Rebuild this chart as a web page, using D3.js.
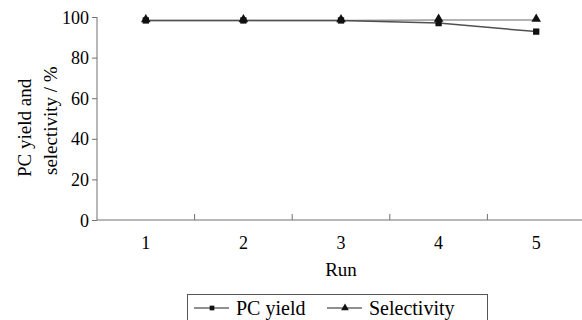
<!DOCTYPE html>
<html>
<head>
<meta charset="utf-8">
<script src="https://cdn.jsdelivr.net/npm/d3@7"></script>
<style>
  body { margin: 0; background: #fff; }
  svg text { font-family: "Liberation Serif", "DejaVu Serif", serif; fill: #000; }
</style>
</head>
<body>
<script>
// data
var runs = ['1', '2', '3', '4', '5'];
var pcYield = [98.3, 98.3, 98.3, 97.0, 92.8];
var selectivity = [98.3, 98.3, 98.3, 98.5, 98.5];
var yTicks = [0, 20, 40, 60, 80, 100];

var serif = '"Liberation Serif", "DejaVu Serif", serif';
var width = 582, height = 320;
var margin = { left: 97, right: -3, top: 17, bottom: 100 };

var svg = d3.select('body').append('svg')
    .attr('width', width)
    .attr('height', height)
    .style('font-family', serif);

var x = d3.scaleBand()
    .domain(runs)
    .range([margin.left, width - margin.right]);

var y = d3.scaleLinear()
    .domain([0, 100])
    .range([height - margin.bottom, margin.top]);

var axisColor = '#707070';

// y axis
var yAxis = svg.append('g')
    .attr('transform', 'translate(' + margin.left + ',0)')
    .call(d3.axisLeft(y).tickValues(yTicks).tickSize(5).tickPadding(3));
yAxis.attr('font-family', null).attr('font-size', null);
yAxis.selectAll('path, line').attr('stroke', axisColor);
yAxis.selectAll('text')
    .style('font-family', serif)
    .style('font-size', '18px')
    .attr('dy', '0.34em');
yAxis.select('.domain').attr('d', 'M0,' + y(100) + 'V' + y(0));

// x axis (ticks between categories, pointing up)
var xAxisY = y(0);
svg.append('line')
    .attr('x1', margin.left).attr('x2', width)
    .attr('y1', xAxisY).attr('y2', xAxisY)
    .attr('stroke', axisColor);
svg.selectAll('.xtick')
    .data(runs.slice(1))
    .enter().append('line')
    .attr('x1', function (d) { return x(d); })
    .attr('x2', function (d) { return x(d); })
    .attr('y1', xAxisY).attr('y2', xAxisY - 6)
    .attr('stroke', axisColor);
svg.selectAll('.xlabel')
    .data(runs)
    .enter().append('text')
    .attr('x', function (d) { return x(d) + x.bandwidth() / 2; })
    .attr('y', xAxisY + 29)
    .attr('text-anchor', 'middle')
    .style('font-family', serif)
    .style('font-size', '18px')
    .text(function (d) { return d; });

svg.append('text')
    .attr('x', x('3') + x.bandwidth() / 2)
    .attr('y', xAxisY + 56)
    .attr('text-anchor', 'middle')
    .style('font-family', serif)
    .style('font-size', '19px')
    .text('Run');

// y title, two lines starting at the bottom
var yt = svg.append('text')
    .attr('transform', 'translate(31,177) rotate(-90)')
    .attr('text-anchor', 'start')
    .style('font-family', serif)
    .style('font-size', '19px');
yt.append('tspan').attr('x', 0).attr('dy', 0).text('PC yield and');
yt.append('tspan').attr('x', 2).attr('dy', 26).text('selectivity / %');

function cx(d, i) { return x(runs[i]) + x.bandwidth() / 2; }

var line = d3.line()
    .x(function (d, i) { return cx(d, i); })
    .y(function (d) { return y(d); });

svg.append('path')
    .datum(selectivity)
    .attr('d', line)
    .attr('fill', 'none')
    .attr('stroke', '#9a9a9a')
    .attr('stroke-width', 1.5);

svg.append('path')
    .datum(pcYield)
    .attr('d', line)
    .attr('fill', 'none')
    .attr('stroke', '#505050')
    .attr('stroke-width', 1.5);

var sq = d3.symbol().type(d3.symbolSquare).size(40);
var tri = d3.symbol().type(d3.symbolTriangle).size(40);

svg.selectAll('.pcm')
    .data(pcYield)
    .enter().append('path')
    .attr('d', sq)
    .attr('transform', function (d, i) { return 'translate(' + cx(d, i) + ',' + y(d) + ')'; })
    .attr('fill', '#111');

svg.selectAll('.slm')
    .data(selectivity)
    .enter().append('path')
    .attr('d', tri)
    .attr('transform', function (d, i) { return 'translate(' + cx(d, i) + ',' + (y(d) - 1) + ')'; })
    .attr('fill', '#111');

// legend
var lg = svg.append('g');
lg.append('rect')
    .attr('x', 187.5).attr('y', 294.5)
    .attr('width', 300).attr('height', 40)
    .attr('fill', 'none')
    .attr('stroke', '#555');

var lsq = d3.symbol().type(d3.symbolSquare).size(22);
var ltri = d3.symbol().type(d3.symbolTriangle).size(26);
var items = [
    { name: 'PC yield', sym: lsq, x0: 194 },
    { name: 'Selectivity', sym: ltri, x0: 327 }
];
items.forEach(function (it) {
    lg.append('line')
        .attr('x1', it.x0).attr('x2', it.x0 + 35)
        .attr('y1', 308).attr('y2', 308)
        .attr('stroke', '#222').attr('stroke-width', 1.2);
    lg.append('path')
        .attr('d', it.sym)
        .attr('transform', 'translate(' + (it.x0 + 18) + ',308)')
        .attr('fill', '#111');
    lg.append('text')
        .attr('x', it.x0 + 42)
        .attr('y', 315)
        .style('font-family', serif)
        .style('font-size', '20px')
        .text(it.name);
});
</script>
</body>
</html>
